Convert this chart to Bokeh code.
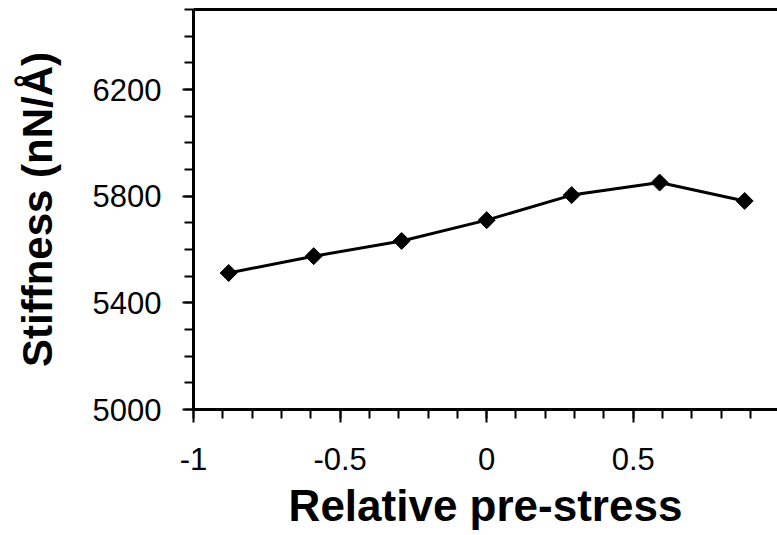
from bokeh.plotting import figure
from bokeh.models import LinearAxis, FixedTicker, CustomJSTickFormatter, Range1d, Label
from bokeh.embed import file_html
from bokeh.resources import INLINE
import numpy as np

# Measured stiffness against relative pre-stress
pre_stress = [-0.88, -0.59, -0.29, 0.0, 0.29, 0.59, 0.88]
stiffness = [5512, 5575, 5632, 5710, 5804, 5851, 5782]

x_ticks = [-1.0, -0.5, 0.0, 0.5, 1.0]
x_minor = [round(-1.0 + 0.1 * i, 1) for i in range(21)]
y_ticks = [5000, 5400, 5800, 6200]
y_minor = list(range(5000, 6501, 100))

x_label = "Relative pre-stress"
y_label = "Stiffness (nN/Å)"

FONT = "Liberation Sans"

p = figure(width=777, height=535, output_backend="svg", toolbar_location=None,
           x_range=Range1d(-1.0, 0.992), y_range=Range1d(5000, 6500),
           x_axis_type=None, y_axis_type=None,
           min_border_left=193, min_border_right=0,
           min_border_top=9, min_border_bottom=126)
p.outline_line_color = None
p.xgrid.visible = False
p.ygrid.visible = False
p.background_fill_color = "white"
p.border_fill_color = "white"

xaxis = LinearAxis(ticker=FixedTicker(ticks=x_ticks, minor_ticks=x_minor),
                   formatter=CustomJSTickFormatter(code="return String(Math.round(tick*10)/10);"),
                   axis_label=x_label)
yaxis = LinearAxis(ticker=FixedTicker(ticks=y_ticks, minor_ticks=y_minor),
                   axis_label=y_label)
top = LinearAxis(ticker=FixedTicker(ticks=[]), major_label_text_font_size="0px",
                 major_tick_out=0, minor_tick_out=0, major_label_standoff=0)

for ax in (xaxis, yaxis, top):
    ax.axis_line_color = "black"
    ax.axis_line_width = 3

for ax in (xaxis, yaxis):
    ax.major_tick_in = 0
    ax.minor_tick_in = 0
    ax.major_tick_line_width = 2
    ax.minor_tick_line_width = 2
    ax.major_tick_line_color = "black"
    ax.minor_tick_line_color = "black"
    ax.major_label_text_font = FONT
    ax.major_label_text_font_size = "31px"
    ax.major_label_text_color = "black"
    ax.axis_label_text_font = FONT
    ax.axis_label_text_font_style = "bold"
    ax.axis_label_text_color = "black"

xaxis.major_tick_out = 13
xaxis.minor_tick_out = 9
xaxis.major_label_standoff = 25
xaxis.axis_label_text_font_size = "44px"
xaxis.axis_label_standoff = 8

yaxis.major_tick_out = 11
yaxis.minor_tick_out = 9
yaxis.major_label_standoff = 21
yaxis.axis_label_text_font_size = "42px"
yaxis.axis_label_standoff = 29

p.add_layout(xaxis, "below")
p.add_layout(yaxis, "left")
p.add_layout(top, "above")

# Tick label for x = 1 sits at the right edge of the frame
p.add_layout(Label(x=1.0, y=5000, text="1", text_align="right", text_baseline="top",
                   x_offset=-4, y_offset=-40, text_font=FONT, text_font_size="31px",
                   text_color="black"))

p.line(pre_stress, stiffness, line_color="black", line_width=3)
p.scatter(pre_stress, stiffness, marker="square", size=12, angle=np.pi / 4,
          fill_color="black", line_color="black")

open("out.html", "w").write(file_html(p, INLINE))
